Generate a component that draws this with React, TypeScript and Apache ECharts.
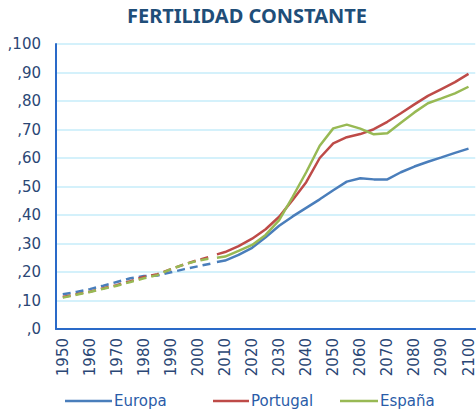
import React, { useEffect, useRef } from "react";
import * as echarts from "echarts";

const TITLE = "FERTILIDAD CONSTANTE";
const histYears = [1950, 1955, 1960, 1965, 1970, 1975, 1980, 1985, 1990, 1995, 2000, 2005];
const europaHist = [12.2, 13.0, 14.0, 15.2, 16.5, 17.8, 18.6, 18.8, 19.9, 21.0, 22.0, 23.0];
const portugalHist = [11.2, 12.2, 13.1, 14.3, 15.4, 16.8, 18.3, 19.2, 21.0, 22.7, 24.2, 25.5];
const espanaHist = [11.0, 12.0, 13.0, 14.1, 15.2, 16.5, 17.8, 18.9, 21.0, 22.7, 24.0, 24.8];

const projYears = [2007, 2010, 2015, 2020, 2025, 2030, 2035, 2040, 2045, 2050, 2055, 2060, 2065, 2070, 2075, 2080, 2085, 2090, 2095, 2100];
const europaProj = [23.5, 24.0, 26.0, 28.5, 32.2, 36.2, 39.5, 42.5, 45.5, 48.7, 51.7, 52.9, 52.5, 52.5, 55.0, 57.0, 58.7, 60.2, 61.8, 63.3];
const portugalProj = [26.2, 27.0, 29.1, 31.7, 35.0, 39.4, 45.3, 51.5, 60.0, 65.1, 67.3, 68.4, 70.1, 72.7, 75.7, 78.8, 81.8, 84.2, 86.6, 89.5];
const espanaProj = [25.0, 25.4, 27.4, 29.5, 33.0, 38.2, 46.4, 55.0, 64.3, 70.4, 71.7, 70.3, 68.3, 68.7, 72.4, 76.0, 79.2, 80.9, 82.7, 85.0];

const xTickLabels = [1950, 1960, 1970, 1980, 1990, 2000, 2010, 2020, 2030, 2040, 2050, 2060, 2070, 2080, 2090, 2100];
const seriesNames = ["Europa", "Portugal", "España"];
const colors = ["#4a7ebb", "#be4b48", "#98b954"];

const pairs = (xs: number[], ys: number[]) => xs.map((x, i) => [x, ys[i]]);

export default function App() {
  const ref = useRef<HTMLDivElement>(null);
  useEffect(() => {
    if (!ref.current) return;
    const chart = echarts.init(ref.current, null, { renderer: "svg" });
    const font = "'DejaVu Sans', sans-serif";
    const titleFont = "'Noto Sans', sans-serif";
    const hist = [europaHist, portugalHist, espanaHist];
    const proj = [europaProj, portugalProj, espanaProj];
    const series: any[] = [];
    hist.forEach((h, i) => {
      series.push({
        name: seriesNames[i] + " hist",
        type: "line",
        data: pairs(histYears, h),
        showSymbol: false,
        lineStyle: { color: colors[i], width: 2.5, type: [8, 5] },
        itemStyle: { color: colors[i] },
      });
    });
    proj.forEach((p, i) => {
      series.push({
        name: seriesNames[i],
        type: "line",
        data: pairs(projYears, p),
        showSymbol: false,
        lineStyle: { color: colors[i], width: 2.5 },
        itemStyle: { color: colors[i] },
      });
    });
    const legendLefts = [65, 213, 340];
    const legendWidths = [47, 36, 38];
    chart.setOption({
      animation: false,
      title: {
        text: TITLE,
        left: 127,
        top: 5,
        padding: 0,
        textStyle: { fontFamily: titleFont, fontWeight: "bold", fontSize: 20, color: "#1f4e79" },
      },
      legend: seriesNames.map((n, i) => ({
        data: [n],
        left: legendLefts[i],
        top: 392,
        padding: 0,
        icon: "rect",
        itemWidth: legendWidths[i],
        itemHeight: 2.5,
        itemGap: 0,
        selectedMode: false,
        textStyle: { fontFamily: font, fontSize: 15, color: "#2a5ca8", padding: [0, 0, 0, -3], lineHeight: 18 },
      })),
      grid: { left: 56, right: -2, top: 44, bottom: 85, containLabel: false },
      xAxis: {
        type: "value",
        min: 1947.5,
        max: 2102.5,
        axisLine: { show: true, lineStyle: { color: "#2a6ac8", width: 2 } },
        axisTick: { show: false },
        splitLine: { show: false },
        axisLabel: {
          customValues: xTickLabels,
          rotate: 90,
          margin: 9,
          fontFamily: font,
          fontSize: 15,
          color: "#2b4775",
          formatter: (v: number) => String(v),
        },
      },
      yAxis: {
        type: "value",
        min: 0,
        max: 100,
        interval: 10,
        axisLine: { show: true, lineStyle: { color: "#2a6ac8", width: 2 } },
        axisTick: { show: false },
        splitLine: { show: true, lineStyle: { color: "#c6ecfa", width: 1.5 } },
        axisLabel: {
          margin: 15,
          fontFamily: font,
          fontSize: 15,
          color: "#2b4775",
          formatter: (v: number) => "," + v,
        },
      },
      series,
    });
    return () => chart.dispose();
  }, []);
  return (
    <div
      ref={ref}
      style={{ position: "fixed", left: 0, top: 0, width: 476, height: 414, background: "#fff" }}
    />
  );
}
